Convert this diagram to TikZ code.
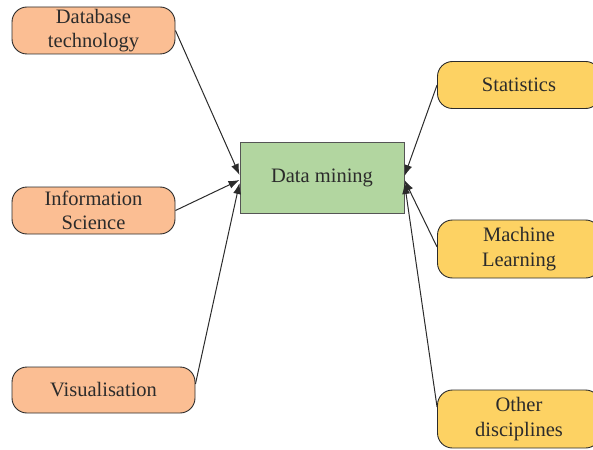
\documentclass[tikz,border=0pt]{standalone}
\usepackage{fontspec}
\setmainfont{Liberation Serif}
\usetikzlibrary{arrows.meta}
\definecolor{salmon}{HTML}{FBBE93}
\definecolor{leaf}{HTML}{B2D6A0}
\definecolor{honey}{HTML}{FDD263}
\definecolor{ink}{HTML}{2B2B2B}
\begin{document}
\begin{tikzpicture}[
        x=1pt, y=-1pt,
        font=\fontsize{20.5}{24.5}\selectfont,
        every node/.style={text=ink},
        field/.style={rectangle, rounded corners=15pt, draw=ink, line width=0.9pt, minimum width=163pt, minimum height=47pt, align=center, inner sep=0pt},
        core/.style={rectangle, draw=ink!80, line width=1pt, fill=leaf, minimum width=164pt, minimum height=70pt, align=center},
        arrow/.style={-{Latex[length=11pt,width=8pt]}, line width=1pt, draw=ink}
    ]
    \useasboundingbox (0,0) rectangle (593,449);
    \clip (0,0) rectangle (593,449);

    % Data mining
    \node[core] (datamining) at (322,178) {Data mining};

    % Left fields
    \node[field, fill=salmon] (dbtech) at (93.5,30.5) {Database\\technology};
    \node[field, fill=salmon] (infosci) at (93.5,210.5) {Information\\Science};
    \node[field, fill=salmon, minimum width=183pt, minimum height=46pt] (visual) at (103.5,390) {Visualisation};

    % Right fields
    \node[field, fill=honey] (stats) at (519,85) {Statistics};
    \node[field, fill=honey, minimum height=58pt] (mlearn) at (519,249) {Machine\\Learning};
    \node[field, fill=honey, minimum height=58pt] (other) at (519,419) {Other\\disciplines};

    % Arrows
    \draw[arrow] (dbtech.east) -- ([yshift=3pt]datamining.west);
    \draw[arrow] (infosci.east) -- ([yshift=-2pt]datamining.west);
    \draw[arrow] ([yshift=6pt]visual.east) -- ([yshift=-5pt]datamining.west);
    \draw[arrow] (stats.west) -- ([yshift=2pt]datamining.east);
    \draw[arrow] ([yshift=2pt]mlearn.west) -- ([yshift=-2pt]datamining.east);
    \draw[arrow] ([yshift=12pt]other.west) -- ([yshift=-5pt]datamining.east);

\end{tikzpicture}
\end{document}
